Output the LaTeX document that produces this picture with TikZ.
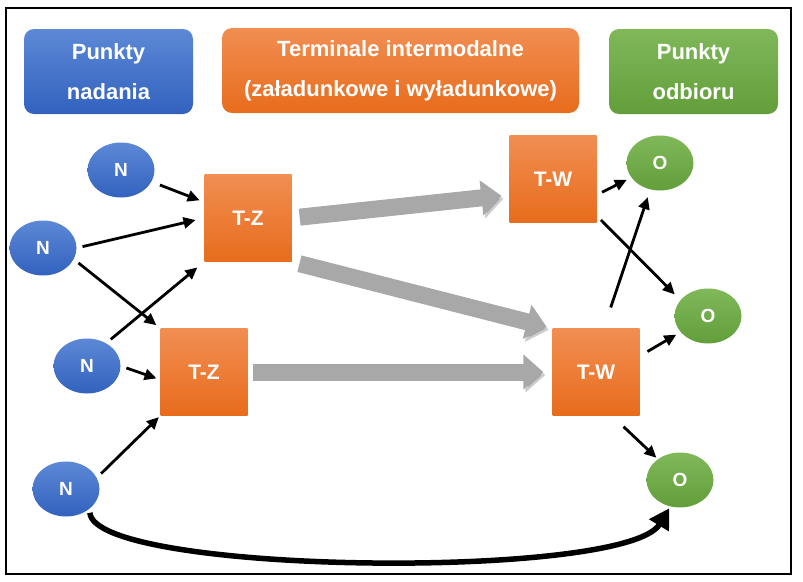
\documentclass[tikz,border=0pt]{standalone}
\usepackage{fontspec}
\setmainfont{Liberation Sans}
\usetikzlibrary{shapes.geometric, arrows.meta, positioning}
\definecolor{blueTop}{RGB}{92,136,214}
\definecolor{blueBot}{RGB}{50,98,190}
\definecolor{orangeTop}{RGB}{241,142,82}
\definecolor{orangeBot}{RGB}{232,108,28}
\definecolor{greenTop}{RGB}{128,184,90}
\definecolor{greenBot}{RGB}{98,158,58}
\definecolor{flowGray}{RGB}{168,168,168}
\tikzset{
    every node/.style={text=white, font=\bfseries}, % white bold labels everywhere
    header/.style={rectangle, rounded corners=10pt, minimum height=85pt, align=center,
        font=\bfseries\fontsize{22}{40}\selectfont}, % the three title boxes
    sender/.style={ellipse, minimum width=67pt, minimum height=55pt, inner sep=0pt,
        top color=blueTop, bottom color=blueBot, font=\bfseries\fontsize{19}{19}\selectfont},
    receiver/.style={ellipse, minimum width=67pt, minimum height=55pt, inner sep=0pt,
        top color=greenTop, bottom color=greenBot, font=\bfseries\fontsize{19}{19}\selectfont},
    terminal/.style={rectangle, minimum size=87pt, inner sep=0pt,
        top color=orangeTop, bottom color=orangeBot, font=\bfseries\fontsize{21}{21}\selectfont},
    link/.style={draw=black, line width=2.8pt, -{Triangle[length=12pt,width=11pt]},
        shorten <=6pt, shorten >=5pt}, % thin black arrows
    flow/.style={draw=flowGray, line width=17pt, -{Triangle[length=20pt,width=34pt]},
        preaction={draw=black, opacity=0.2, transform canvas={shift={(2pt,-3pt)}}}}, % thick grey arrows
}
\begin{document}
\begin{tikzpicture}[x=1pt, y=-1pt]
    \useasboundingbox (0,0) rectangle (803,581);
    \draw[line width=2.5pt] (6,8) rectangle (791,574);

    % headers
    \node[header, minimum width=169pt, top color=blueTop, bottom color=blueBot] (hn) at (108.5,71.5) {Punkty\\nadania};
    \node[header, minimum width=357pt, top color=orangeTop, bottom color=orangeBot] (ht) at (400.5,70.5) {Terminale intermodalne\\(załadunkowe i wyładunkowe)};
    \node[header, minimum width=169pt, top color=greenTop, bottom color=greenBot] (ho) at (693.5,71.5) {Punkty\\odbioru};

    % sending points
    \node[sender] (n1) at (121,170) {N};
    \node[sender] (n2) at (43,248) {N};
    \node[sender] (n3) at (87,366) {N};
    \node[sender] (n4) at (66,489) {N};

    % terminals
    \node[terminal] (tz1) at (248,218) {T-Z};
    \node[terminal] (tz2) at (204,372) {T-Z};
    \node[terminal] (tw1) at (553,179) {T-W};
    \node[terminal] (tw2) at (596,372) {T-W};

    % receiving points
    \node[receiver] (o1) at (660,163) {O};
    \node[receiver] (o2) at (708,316) {O};
    \node[receiver] (o3) at (680,480) {O};

    % main flows between terminals
    \draw[flow, shorten <=8pt, shorten >=8pt] (tz1.east) -- (tw1.-160);
    \draw[flow, shorten <=8pt, shorten >=6pt] (tz1.south east) -- (tw2.north west);
    \draw[flow, shorten <=5pt, shorten >=9pt] (tz2.east) -- (tw2.west);

    % feeder and delivery links
    \draw
    (n1) edge[link, shorten <=9pt] (tz1.160)
    (n2.east) edge[link, shorten >=9pt] (tz1.west)
    (n2.-20) edge[link] (tz2.north west)
    (n3.50) edge[link, shorten >=9pt] (tz1.south west)
    (n3.east) edge[link, shorten >=4pt] (tz2.-170)
    (n4.20) edge[link, shorten >=2pt] (tz2.south west)
    (tw1.-20) edge[link] (o1)
    (tw1.-40) edge[link, shorten >=8pt] (o2.150)
    (tw2.80) edge[link, shorten <=22pt, shorten >=8pt] (o1.-110)
    (tw2.20) edge[link, shorten <=9pt] (o2)
    (tw2.-70) edge[link, shorten <=16pt, shorten >=2pt] (o3);

    % direct delivery
    \draw[line width=5.5pt, -{Triangle[length=20pt,width=22pt]}, shorten <=4pt, shorten >=2pt]
    (n4.-40) .. controls +(5,66) and +(-45,74) .. (o3.-110);
\end{tikzpicture}
\end{document}
